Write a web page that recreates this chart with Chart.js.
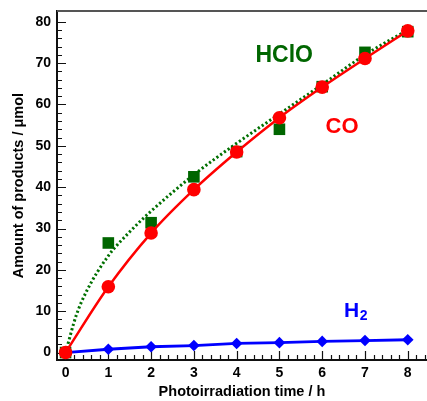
<!DOCTYPE html>
<html><head><meta charset="utf-8">
<script src="https://cdn.jsdelivr.net/npm/chart.js@4/dist/chart.umd.min.js"></script>
<style>html,body{margin:0;padding:0;background:#fff}#wrap{width:427px;height:401px}</style>
</head><body><div id="wrap"><canvas id="c" width="427" height="401"></canvas></div>
<script>
const times = [0, 1, 2, 3, 4, 5, 6, 7, 8];
const coValues = [0, 15.9, 28.9, 39.4, 48.5, 56.8, 64.2, 71.1, 77.8];
const hcloValues = [0, 26.5, 31.4, 42.5, 48.6, 54.0, 64.3, 72.6, 77.6];
const h2Values = [0, 0.8, 1.4, 1.7, 2.2, 2.4, 2.7, 2.9, 3.1];
const hcloFitTimes = [0, 0.25, 0.5, 1, 1.5, 2, 3, 4, 5, 6, 7, 8];
const hcloFitValues = [0, 9, 15, 23.4, 29.2, 34.2, 43, 50.6, 57.7, 64.8, 72, 78];
const xTickLabels = ['0', '1', '2', '3', '4', '5', '6', '7', '8'];
const yTickLabels = ['0', '10', '20', '30', '40', '50', '60', '70', '80'];
const seriesLabels = ['CO', 'HClO', 'H', '2'];

const X_MIN = -0.2, X_MAX = 8.45, Y_MIN = -1.8, Y_MAX = 82.6;
const FONT = "'Liberation Sans', Arial, sans-serif";
const toXY = (xs, ys) => xs.map((x, i) => ({x: x, y: ys[i]}));

const frameAndTicks = {
  id: 'frameAndTicks',
  beforeDatasetsDraw(chart) {
    const {ctx, chartArea: a, scales: {x, y}} = chart;
    ctx.save();
    ctx.strokeStyle = '#111';
    ctx.lineWidth = 1.2;
    ctx.beginPath();
    for (let i = 0; i <= 42; i++) {
      const v = i * 0.2;
      const px = Math.round(x.getPixelForValue(v)) + 0.5;
      const len = i % 5 === 0 ? 9 : 5;
      ctx.moveTo(px, a.bottom);
      ctx.lineTo(px, a.bottom - len);
    }
    for (let i = 0; i <= 40; i++) {
      const v = i * 2;
      const py = Math.round(y.getPixelForValue(v)) + 0.5;
      const len = i % 5 === 0 ? 9 : 5;
      ctx.moveTo(a.left, py);
      ctx.lineTo(a.left + len, py);
    }
    ctx.stroke();
    ctx.strokeStyle = '#555';
    ctx.lineWidth = 2;
    ctx.beginPath();
    ctx.moveTo(a.left, a.top);
    ctx.lineTo(a.right, a.top);
    ctx.stroke();
    ctx.restore();
  },
  afterDatasetsDraw(chart) {
    const {ctx, scales: {x, y}} = chart;
    ctx.save();
    ctx.textBaseline = 'alphabetic';
    ctx.textAlign = 'left';
    ctx.font = 'bold 23px ' + FONT;
    ctx.fillStyle = '#006600';
    ctx.fillText(seriesLabels[1], x.getPixelForValue(4.44), y.getPixelForValue(70.3));
    ctx.font = 'bold 22px ' + FONT;
    ctx.fillStyle = '#ff0000';
    ctx.fillText(seriesLabels[0], x.getPixelForValue(6.08), y.getPixelForValue(53.1));
    ctx.fillStyle = '#0000ff';
    const hx = x.getPixelForValue(6.51), hy = y.getPixelForValue(8.6);
    ctx.font = 'bold 21px ' + FONT;
    ctx.fillText(seriesLabels[2], hx, hy);
    const w = ctx.measureText(seriesLabels[2]).width;
    ctx.font = 'bold 14px ' + FONT;
    ctx.fillText(seriesLabels[3], hx + w + 0.5, hy + 3);
    ctx.restore();
  }
};

new Chart(document.getElementById('c'), {
  type: 'scatter',
  data: {
    datasets: [
      {
        label: 'CO', data: toXY(times, coValues), showLine: true,
        borderColor: '#ff0000', backgroundColor: '#ff0000', borderWidth: 2.5,
        pointRadius: 6.8, pointBorderWidth: 0, pointStyle: 'circle',
        cubicInterpolationMode: 'monotone'
      },
      {
        label: 'H2', data: toXY(times, h2Values), showLine: true,
        borderColor: '#0000ff', backgroundColor: '#0000ff', borderWidth: 2.8,
        pointRadius: 5.8, pointBorderWidth: 0, pointStyle: 'rectRot'
      },
      {
        label: 'HClO', data: toXY(times, hcloValues), showLine: false,
        borderColor: '#006600', backgroundColor: '#006600',
        pointRadius: 8.2, pointBorderWidth: 0, pointStyle: 'rect'
      },
      {
        label: 'HClO fit', data: toXY(hcloFitTimes, hcloFitValues), showLine: true,
        borderColor: '#007000', borderWidth: 3, borderDash: [2.2, 2.4],
        pointRadius: 0, cubicInterpolationMode: 'monotone'
      }
    ]
  },
  options: {
    responsive: false,
    animation: false,
    devicePixelRatio: 1,
    layout: {autoPadding: false, padding: {top: 11, right: 0, left: 0, bottom: 0}},
    plugins: {legend: {display: false}, tooltip: {enabled: false}},
    scales: {
      x: {
        type: 'linear', min: X_MIN, max: X_MAX,
        afterBuildTicks: s => { s.ticks = xTickLabels.map(t => ({value: Number(t)})); },
        afterFit: s => { s.height = 41; s.paddingLeft = 0; s.paddingRight = 0; },
        grid: {display: false, drawTicks: false},
        border: {display: true, color: '#111', width: 2},
        ticks: {
          padding: 5, color: '#000', maxRotation: 0, autoSkip: false,
          font: {family: FONT, size: 14, weight: 'bold'},
          callback: (v, i) => xTickLabels[i]
        },
        title: {
          display: true, text: 'Photoirradiation time / h', color: '#000',
          font: {family: FONT, size: 14.5, weight: 'bold'}, padding: {top: 0, bottom: 0}
        }
      },
      y: {
        type: 'linear', min: Y_MIN, max: Y_MAX,
        afterBuildTicks: s => { s.ticks = yTickLabels.map(t => ({value: Number(t)})); },
        afterFit: s => { s.width = 57; s.paddingTop = 0; s.paddingBottom = 0; },
        grid: {display: false, drawTicks: false},
        border: {display: true, color: '#111', width: 2},
        ticks: {
          padding: 6, color: '#000', autoSkip: false,
          font: {family: FONT, size: 14, weight: 'bold'},
          callback: (v, i) => yTickLabels[i]
        },
        title: {
          display: true, text: 'Amount of products / μmol', color: '#000',
          font: {family: FONT, size: 14.5, weight: 'bold'}, padding: {top: 10, bottom: 0}
        }
      }
    }
  },
  plugins: [frameAndTicks]
});
</script>
</body></html>
